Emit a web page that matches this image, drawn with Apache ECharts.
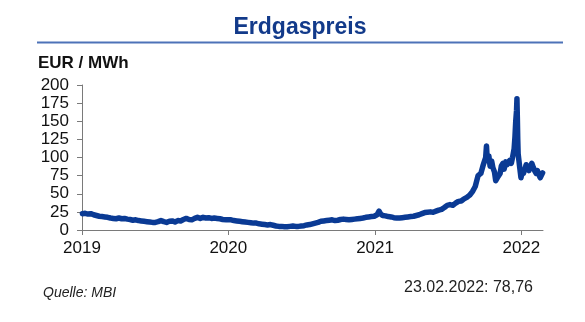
<!DOCTYPE html>
<html>
<head>
<meta charset="utf-8">
<script src="https://cdn.jsdelivr.net/npm/echarts@6/dist/echarts.min.js"></script>
<style>
html,body{margin:0;padding:0;background:#fff;}
#chart{width:585px;height:322px;}
</style>
</head>
<body>
<div id="chart"></div>
<script>
// ---- data (EUR / MWh) ----
const titleText = 'Erdgaspreis';
const unitText = 'EUR / MWh';
const sourceText = 'Quelle: MBI';
const lastText = '23.02.2022: 78,76';
const yearTicks = ['2019-01-01', '2020-01-01', '2021-01-01', '2022-01-01'];
const yTicks = [0, 25, 50, 75, 100, 125, 150, 175, 200];

const dates2019 = ['2019-01-02','2019-01-09','2019-01-16','2019-01-23','2019-01-30','2019-02-06','2019-02-13','2019-02-20','2019-02-27','2019-03-06','2019-03-13','2019-03-20','2019-03-27','2019-04-03','2019-04-10','2019-04-17','2019-04-24','2019-05-01','2019-05-08','2019-05-15','2019-05-22','2019-05-29','2019-06-05','2019-06-12','2019-06-19','2019-06-26','2019-07-03','2019-07-10','2019-07-17','2019-07-24','2019-07-31','2019-08-07','2019-08-14','2019-08-21','2019-08-28','2019-09-04','2019-09-11','2019-09-18','2019-09-25','2019-10-02','2019-10-09','2019-10-16','2019-10-23','2019-10-30','2019-11-06','2019-11-13','2019-11-20','2019-11-27','2019-12-04','2019-12-11','2019-12-18','2019-12-27'];
const prices2019 = [22.5,23,22,22.5,21,20,19,18.5,18,17.5,16.5,16,15.5,16.5,15.5,16,15,14.5,13.5,14,13,12.5,12,11.5,11,10.5,10.5,11.5,13,11.5,10.5,12,12.5,11,13,12.5,14.5,16,14.5,14,16,17.5,16,17.5,16.5,17,16,16.5,16,15.5,14.5,14];

const dates2020 = ['2020-01-08','2020-01-15','2020-01-22','2020-01-29','2020-02-05','2020-02-12','2020-02-19','2020-02-26','2020-03-04','2020-03-11','2020-03-18','2020-03-25','2020-04-01','2020-04-08','2020-04-15','2020-04-22','2020-04-29','2020-05-06','2020-05-13','2020-05-20','2020-05-27','2020-06-03','2020-06-10','2020-06-17','2020-06-24','2020-07-01','2020-07-08','2020-07-15','2020-07-22','2020-07-29','2020-08-05','2020-08-12','2020-08-19','2020-08-26','2020-09-02','2020-09-09','2020-09-16','2020-09-23','2020-09-30','2020-10-07','2020-10-14','2020-10-21','2020-10-28','2020-11-04','2020-11-11','2020-11-18','2020-11-25','2020-12-02','2020-12-09','2020-12-16','2020-12-23','2020-12-30'];
const prices2020 = [14,13,12.5,12,11.5,11,10.5,10,9.5,9.5,8.5,8,7.5,7,7.5,6.5,5.5,5,5,4.5,4.5,5,5.5,5,5,5.5,6,7,7.5,8.5,9.5,10.5,12,12.5,13,13.5,14,13,13.5,14.5,15,14.5,14,14.5,15,15.5,16,16.5,17.5,18,18.5,19];

const dates2021 = ['2021-01-06','2021-01-11','2021-01-15','2021-01-20','2021-01-27','2021-02-03','2021-02-10','2021-02-17','2021-02-24','2021-03-03','2021-03-10','2021-03-17','2021-03-24','2021-03-31','2021-04-07','2021-04-14','2021-04-21','2021-04-28','2021-05-05','2021-05-12','2021-05-19','2021-05-26','2021-06-02','2021-06-09','2021-06-16','2021-06-23','2021-06-30','2021-07-07','2021-07-14','2021-07-21','2021-07-28','2021-08-04','2021-08-11','2021-08-18','2021-08-25','2021-09-01','2021-09-08','2021-09-15','2021-09-22','2021-09-27','2021-10-01','2021-10-04','2021-10-06','2021-10-08','2021-10-12','2021-10-15','2021-10-19','2021-10-22','2021-10-26','2021-10-29','2021-11-02','2021-11-05','2021-11-09','2021-11-12','2021-11-16','2021-11-19','2021-11-23','2021-11-26','2021-11-30','2021-12-03','2021-12-07','2021-12-10','2021-12-14','2021-12-16','2021-12-18','2021-12-20','2021-12-21','2021-12-22','2021-12-23','2021-12-24','2021-12-28','2021-12-31'];
const prices2021 = [21,26,22,20,19.5,18.5,18,17,16.5,16.5,17,17.5,18,18.5,19,20,21,22.5,24,24.5,25,24.5,26,27.5,28.5,31,34,35,34,37,39.5,40,43,45,48,53,60,75,78,88,95,100,116,96,102,88,95,86,80,68,72,70,78,88,92,84,94,90,93,96,92,100,112,128,150,165,181,155,125,105,86,72];

const dates2022 = ['2022-01-04','2022-01-06','2022-01-10','2022-01-13','2022-01-17','2022-01-20','2022-01-24','2022-01-27','2022-01-31','2022-02-03','2022-02-07','2022-02-10','2022-02-14','2022-02-17','2022-02-21','2022-02-23'];
const prices2022 = [82,78,84,90,88,82,80,92,86,82,78,82,76,72,70,78.76];

// ---- build ----
function ts(s){ const p = s.split('-').map(Number); return Date.UTC(p[0], p[1]-1, p[2]); }
const allDates = [].concat(dates2019, dates2020, dates2021, dates2022);
const allPrices = [].concat(prices2019, prices2020, prices2021, prices2022);
const seriesData = allDates.map((d, i) => [ts(d), allPrices[i]]);
const yearTickTs = yearTicks.map(ts);

const chart = echarts.init(document.getElementById('chart'), null, {renderer: 'canvas'});
const FONT = '"Liberation Sans", Arial, sans-serif';
chart.setOption({
  animation: false,
  backgroundColor: '#fff',
  grid: {left: 82, right: 42, top: 85, bottom: 92, containLabel: false},
  xAxis: {
    type: 'value',
    min: ts('2019-01-01'),
    max: ts('2022-02-24'),
    axisLine: {show: true, onZero: false, lineStyle: {color: '#7a7a7a', width: 1}},
    axisTick: {show: true, length: 5, inside: false, customValues: yearTickTs, lineStyle: {color: '#7a7a7a'}},
    axisLabel: {customValues: yearTickTs, formatter: v => String(new Date(v).getUTCFullYear()), color: '#111', fontSize: 17, fontFamily: FONT, margin: 10},
    splitLine: {show: false}
  },
  yAxis: {
    type: 'value', min: 0, max: 200, interval: 25,
    axisLine: {show: true, lineStyle: {color: '#7a7a7a', width: 1}},
    axisTick: {show: true, length: 5, lineStyle: {color: '#7a7a7a'}},
    axisLabel: {color: '#111', fontSize: 17, fontFamily: FONT, margin: 13},
    splitLine: {show: false}
  },
  series: [{
    type: 'line',
    data: seriesData,
    showSymbol: false,
    smooth: false,
    lineStyle: {color: '#0a3a94', width: 5.5, join: 'round', cap: 'round'},
    itemStyle: {color: '#0a3a94'}
  }],
  graphic: [
    {type: 'text', x: 300, y: 28, style: {text: titleText, font: 'bold 23px ' + FONT, fill: '#123a8a', align: 'center', verticalAlign: 'middle'}},
    {type: 'line', shape: {x1: 37, y1: 42.5, x2: 563, y2: 42.5}, style: {stroke: '#4d72b8', lineWidth: 2}},
    {type: 'text', x: 38, y: 63, style: {text: unitText, font: 'bold 17px ' + FONT, fill: '#111', verticalAlign: 'middle'}},
    {type: 'text', x: 43, y: 293, style: {text: sourceText, font: 'italic 14px ' + FONT, fill: '#222', verticalAlign: 'middle'}},
    {type: 'text', x: 533, y: 288, style: {text: lastText, font: '16px ' + FONT, fill: '#222', align: 'right', verticalAlign: 'middle'}}
  ]
});
</script>
</body>
</html>
